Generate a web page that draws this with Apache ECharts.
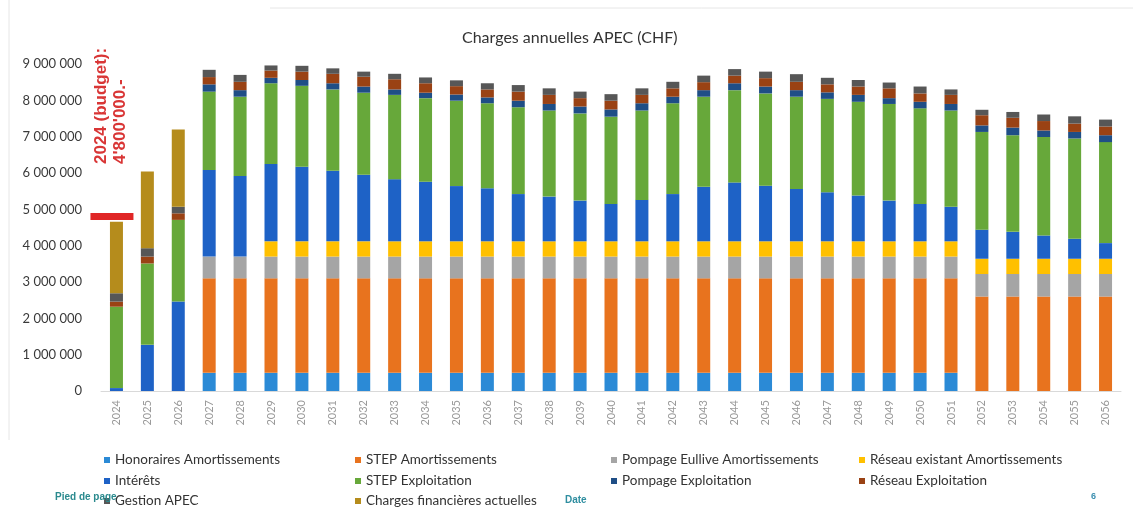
<!DOCTYPE html>
<html>
<head>
<meta charset="utf-8">
<script src="https://cdn.jsdelivr.net/npm/echarts@6/dist/echarts.min.js"></script>
<style>
    html, body { margin: 0; padding: 0; background: #fff; }
    #chart { width: 1133px; height: 515px; }
</style>
</head>
<body>
<div id="chart"></div>
<script>
// annual charges, CHF
const years = ["2024", "2025", "2026", "2027", "2028", "2029", "2030", "2031", "2032", "2033", "2034",
    "2035", "2036", "2037", "2038", "2039", "2040", "2041", "2042", "2043", "2044", "2045",
    "2046", "2047", "2048", "2049", "2050", "2051", "2052", "2053", "2054", "2055", "2056"]

const honorairesAmort = [0, 0, 0, 500000, 500000, 500000, 500000, 500000, 500000, 500000, 500000,
    500000, 500000, 500000, 500000, 500000, 500000, 500000, 500000, 500000, 500000, 500000,
    500000, 500000, 500000, 500000, 500000, 500000, 0, 0, 0, 0, 0]
const stepAmort = [0, 0, 0, 2600000, 2600000, 2600000, 2600000, 2600000, 2600000, 2600000, 2600000,
    2600000, 2600000, 2600000, 2600000, 2600000, 2600000, 2600000, 2600000, 2600000, 2600000, 2600000,
    2600000, 2600000, 2600000, 2600000, 2600000, 2600000, 2600000, 2600000, 2600000, 2600000, 2600000]
const pompageAmort = [0, 0, 0, 600000, 600000, 600000, 600000, 600000, 600000, 600000, 600000,
    600000, 600000, 600000, 600000, 600000, 600000, 600000, 600000, 600000, 600000, 600000,
    600000, 600000, 600000, 600000, 600000, 600000, 620000, 620000, 620000, 620000, 620000]
const reseauAmort = [0, 0, 0, 0, 0, 420000, 420000, 420000, 420000, 420000, 420000,
    420000, 420000, 420000, 420000, 420000, 420000, 420000, 420000, 420000, 420000, 420000,
    420000, 420000, 420000, 420000, 420000, 420000, 420000, 420000, 420000, 420000, 420000]
const interets = [80000, 1270000, 2460000, 2380000, 2220000, 2130000, 2050000, 1940000, 1830000, 1710000, 1640000,
    1520000, 1460000, 1300000, 1230000, 1120000, 1030000, 1140000, 1300000, 1500000, 1620000, 1530000,
    1440000, 1350000, 1260000, 1120000, 1030000, 950000, 800000, 740000, 640000, 550000, 430000]
const stepExpl = [2240000, 2240000, 2250000, 2160000, 2180000, 2220000, 2230000, 2240000, 2260000, 2320000, 2300000,
    2350000, 2340000, 2390000, 2370000, 2400000, 2400000, 2460000, 2500000, 2480000, 2540000, 2540000,
    2540000, 2570000, 2580000, 2660000, 2630000, 2650000, 2690000, 2660000, 2710000, 2760000, 2780000]
const pompageExpl = [0, 0, 0, 200000, 180000, 150000, 160000, 170000, 170000, 150000, 150000,
    170000, 160000, 180000, 180000, 190000, 200000, 200000, 180000, 180000, 190000, 190000,
    180000, 180000, 190000, 160000, 180000, 180000, 180000, 210000, 180000, 180000, 190000]
const reseauExpl = [140000, 190000, 180000, 200000, 230000, 200000, 230000, 260000, 270000, 280000, 260000,
    230000, 220000, 250000, 250000, 230000, 240000, 230000, 230000, 220000, 210000, 230000,
    230000, 220000, 230000, 270000, 230000, 250000, 280000, 270000, 260000, 230000, 240000]
const gestion = [230000, 230000, 180000, 200000, 190000, 140000, 160000, 150000, 140000, 150000, 160000,
    160000, 170000, 180000, 180000, 180000, 180000, 180000, 180000, 180000, 180000, 180000,
    210000, 180000, 180000, 160000, 190000, 150000, 150000, 160000, 180000, 200000, 190000]
const chargesFin = [1970000, 2110000, 2130000, 0, 0, 0, 0, 0, 0, 0, 0,
    0, 0, 0, 0, 0, 0, 0, 0, 0, 0, 0,
    0, 0, 0, 0, 0, 0, 0, 0, 0, 0, 0]

const budget2024 = 4800000

const seriesList = [
    { name: "Honoraires Amortissements", data: honorairesAmort, color: "#2b8ad6" },
    { name: "STEP Amortissements", data: stepAmort, color: "#e8731e" },
    { name: "Pompage Eullive Amortissements", data: pompageAmort, color: "#a5a5a5" },
    { name: "Réseau existant Amortissements", data: reseauAmort, color: "#ffc000" },
    { name: "Intérêts", data: interets, color: "#1e62c6" },
    { name: "STEP Exploitation", data: stepExpl, color: "#67a83a" },
    { name: "Pompage Exploitation", data: pompageExpl, color: "#1f4e86" },
    { name: "Réseau Exploitation", data: reseauExpl, color: "#9a4214" },
    { name: "Gestion APEC", data: gestion, color: "#575757" },
    { name: "Charges financières actuelles", data: chargesFin, color: "#b58c1c" },
]

// legend grid: 4 columns, 3 rows
const legendLeft = [104, 355, 611, 859]
const legendTop = [453, 474, 494]

const font = "Lato"

const chart = echarts.init(document.getElementById("chart"))

const fmt = (v) => String(v).replace(/\B(?=(\d{3})+(?!\d))/g, " ")

const option = {
    animation: false,
    backgroundColor: "#fff",
    title: {
        text: "Charges annuelles APEC (CHF)",
        left: 457,
        top: 25,
        textStyle: { fontSize: 16, fontWeight: "normal", color: "#333", fontFamily: font },
    },
    legend: seriesList.map((s, i) => ({
        data: [s.name],
        left: legendLeft[i % 4],
        top: legendTop[Math.floor(i / 4)],
        icon: "rect",
        itemWidth: 6,
        itemHeight: 6,
        padding: 0,
        selectedMode: false,
        textStyle: { fontSize: 13.5, color: "#333", fontFamily: font },
    })),
    grid: { left: 101, right: 12, top: 64, bottom: 124 },
    xAxis: {
        type: "category",
        data: years,
        axisTick: { show: false },
        axisLine: { lineStyle: { color: "#d9d9d9" } },
        axisLabel: { rotate: 90, color: "#9a9a9a", fontSize: 11, fontFamily: font, margin: 9 },
    },
    yAxis: {
        type: "value",
        min: 0,
        max: 9000000,
        interval: 1000000,
        splitLine: { show: false },
        axisLine: { show: false },
        axisLabel: { color: "#3a3a3a", fontSize: 13, fontFamily: font, margin: 19, formatter: fmt },
    },
    series: seriesList.map((s) => ({
        name: s.name,
        type: "bar",
        stack: "total",
        barWidth: 13,
        data: s.data,
        itemStyle: { color: s.color },
    })),
    graphic: [
        { type: "line", id: "topRule", shape: { x1: 270, y1: 8, x2: 1133, y2: 8 }, style: { stroke: "#e6e6e6", lineWidth: 1 } },
        { type: "line", id: "leftRule", shape: { x1: 9, y1: 0, x2: 9, y2: 440 }, style: { stroke: "#e6e6e6", lineWidth: 1 } },
        {
            type: "text", id: "budgetLabel1", x: 101, y: 164, rotation: Math.PI / 2, z: 100,
            style: { text: "2024 (budget):", fill: "#d93636", font: "bold 17px 'Liberation Sans'", textAlign: "left", textVerticalAlign: "middle" },
        },
        {
            type: "text", id: "budgetLabel2", x: 120, y: 164, rotation: Math.PI / 2, z: 100,
            style: { text: "4'800'000.-", fill: "#d93636", font: "bold 17px 'Liberation Sans'", textAlign: "left", textVerticalAlign: "middle" },
        },
        {
            type: "text", id: "footerLeft", x: 55, y: 497, z: 100,
            style: { text: "Pied de page", fill: "#2a8a8e", font: "bold 10px 'Liberation Sans'", textVerticalAlign: "middle" },
        },
        {
            type: "text", id: "footerDate", x: 565, y: 500, z: 100,
            style: { text: "Date", fill: "#2f8ea0", font: "bold 10px 'Liberation Sans'", textVerticalAlign: "middle" },
        },
        {
            type: "text", id: "footerPage", x: 1091, y: 497, z: 100,
            style: { text: "6", fill: "#3b8fb0", font: "bold 9px 'Liberation Sans'", textVerticalAlign: "middle" },
        },
    ],
}

chart.setOption(option)

// red budget marker at 4.8M on the 2024 bar
const yb = chart.convertToPixel({ yAxisIndex: 0 }, budget2024)
const xb = chart.convertToPixel({ xAxisIndex: 0 }, years[0])
chart.setOption({
    graphic: [
        { type: "rect", id: "budgetBar", z: 90, shape: { x: xb - 26, y: yb - 3.5, width: 43, height: 7 }, style: { fill: "#e02626" } },
    ],
})
</script>
</body>
</html>
